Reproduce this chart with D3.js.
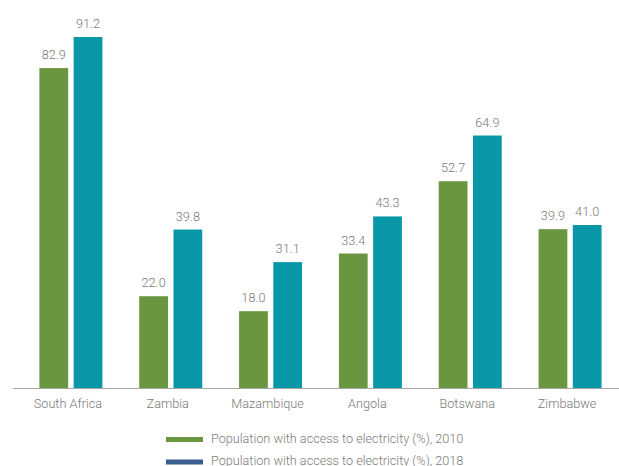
<!DOCTYPE html>
<html>
<head>
<meta charset="utf-8">
<script src="https://cdn.jsdelivr.net/npm/d3@7"></script>
<style>
  html, body { margin: 0; padding: 0; background: #fff; }
  svg { display: block; }
  text { font-family: Roboto, "Liberation Sans", Arial, sans-serif; font-weight: 300; fill: #7a7a7a; }
</style>
</head>
<body>
<svg id="chart" width="619" height="466"></svg>
<script>
const categories = ["South Africa", "Zambia", "Mazambique", "Angola", "Botswana", "Zimbabwe"];
const values2010 = [82.9, 22.0, 18.0, 33.4, 52.7, 39.9];
const values2018 = [91.2, 39.8, 31.1, 43.3, 64.9, 41.0];
const seriesNames = [
  "Population with access to electricity (%), 2010",
  "Population with access to electricity (%), 2018"
];
const barColors = ["#6a963f", "#0897a6"];
const legendColors = ["#6a963f", "#3a5f93"];

const svg = d3.select("#chart");
const baseY = 388;

const x0 = d3.scaleBand().domain(categories).range([21, 620]).padding(0);
const x1 = d3.scaleBand().domain([0, 1]).range([18.4, 81.4]).paddingInner(0.16);
const y = d3.scaleLinear().domain([-2.5, 91.2]).range([baseY, 37]);

const rows = categories.map((c, i) => ({ c, v: [values2010[i], values2018[i]] }));

const g = svg.append("g");
rows.forEach(r => {
  r.v.forEach((v, s) => {
    const bx = x0(r.c) + x1(s);
    const bw = x1.bandwidth();
    g.append("rect")
      .attr("x", bx)
      .attr("y", y(v))
      .attr("width", bw)
      .attr("height", baseY - y(v))
      .attr("fill", barColors[s]);
    g.append("text")
      .attr("x", bx + bw / 2)
      .attr("y", y(v) - 9)
      .attr("text-anchor", "middle")
      .style("font-size", "12.7px")
      .text(v.toFixed(1));
  });
});

// axis
const axis = d3.axisBottom(x0).tickSize(0).tickPadding(11);
const ax = svg.append("g").attr("transform", `translate(0,${baseY})`).call(axis);
ax.select(".domain").attr("d", "M13,0.5H619").attr("stroke", "#a6a6a6").attr("stroke-width", 1);
ax.selectAll(".tick text")
  .attr("dx", -3)
  .style("font-family", "Roboto, Liberation Sans, Arial, sans-serif")
  .style("font-weight", "300")
  .style("font-size", "12.7px")
  .attr("fill", "#7a7a7a");

// legend
const leg = svg.append("g");
seriesNames.forEach((name, i) => {
  const ly = 437 + i * 22.5;
  leg.append("rect").attr("x", 166).attr("y", ly).attr("width", 37).attr("height", 5).attr("fill", legendColors[i]);
  leg.append("text").attr("x", 211).attr("y", ly + 5.5)
    .style("font-size", "12.65px")
    .text(name);
});
</script>
</body>
</html>
